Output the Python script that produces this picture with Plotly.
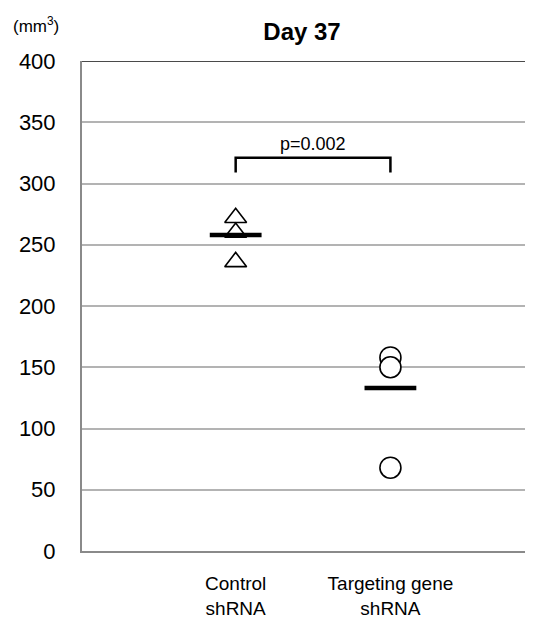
import plotly.graph_objects as go

categories = ["Control<br>shRNA", "Targeting gene<br>shRNA"]
control_values = [272, 260, 236]
targeting_values = [158, 150, 68]
mean_values = [258, 133]
bracket_low = 309
bracket_high = 321
p_label = "p=0.002"
p_label_y = 332
y_ticks = [0, 50, 100, 150, 200, 250, 300, 350, 400]

FONT = "Liberation Sans, Arial, sans-serif"

# page has an 8px body margin; figure is sized to fit the window
W, H = 525, 611
L, T, B = 74, 53, 57

fig = go.Figure()

fig.add_trace(go.Scatter(
    x=[0] * len(control_values), y=control_values, mode="markers",
    marker=dict(symbol="triangle-up", size=19, color="white",
                line=dict(color="black", width=1.6)),
    showlegend=False, hoverinfo="y"))

fig.add_trace(go.Scatter(
    x=[1] * len(targeting_values), y=targeting_values, mode="markers",
    marker=dict(symbol="circle", size=21, color="white",
                line=dict(color="black", width=1.6)),
    showlegend=False, hoverinfo="y"))

fig.add_trace(go.Scatter(
    x=[0, 1], y=mean_values, mode="markers",
    marker=dict(symbol="line-ew", size=37,
                line=dict(color="black", width=4.5)),
    showlegend=False, hoverinfo="y"))

fig.add_trace(go.Scatter(
    x=[0, 0, 1, 1], y=[bracket_low, bracket_high, bracket_high, bracket_low],
    mode="lines", line=dict(color="black", width=2.5),
    showlegend=False, hoverinfo="skip"))

fig.add_annotation(x=0.5, y=p_label_y, text=p_label, showarrow=False,
                   xanchor="center", yanchor="middle",
                   font=dict(family=FONT, size=18, color="black"))

fig.add_annotation(xref="paper", yref="paper", x=-0.102, y=1.074,
                   xanchor="center", yanchor="middle",
                   text="(mm<sup>3</sup>)", showarrow=False,
                   font=dict(family=FONT, size=17, color="black"))

fig.add_shape(type="line", xref="paper", yref="y", x0=0, x1=1,
              y0=400, y1=400, line=dict(color="#4a4a4a", width=2))

fig.update_layout(
    width=W, height=H,
    margin=dict(l=L, r=0, t=T, b=B, pad=0),
    paper_bgcolor="white", plot_bgcolor="white",
    font=dict(family=FONT, color="black"),
    title=dict(text="<b>Day 37</b>", x=(302 - 8) / W, xref="container",
               xanchor="center", y=1 - (32 - 8) / H, yref="container",
               yanchor="middle",
               font=dict(family=FONT, size=24, color="black")),
)

fig.update_xaxes(
    range=[-0.993, 1.974 - 8 / 152], tickmode="array", tickvals=[0, 1],
    ticktext=categories, showgrid=False, zeroline=False,
    showline=True, linecolor="#8a8a8a", linewidth=2, ticks="",
    ticklabelstandoff=14,
    tickfont=dict(family=FONT, size=19, color="black"))

fig.update_yaxes(
    range=[0, 400], tickmode="array", tickvals=y_ticks,
    showgrid=True, gridcolor="#b3b3b3", gridwidth=1.5,
    zeroline=False, showline=True, linecolor="#8a8a8a", linewidth=2,
    ticks="", ticklabelstandoff=20,
    tickfont=dict(family=FONT, size=22, color="black"))

fig.write_html("out.html")
